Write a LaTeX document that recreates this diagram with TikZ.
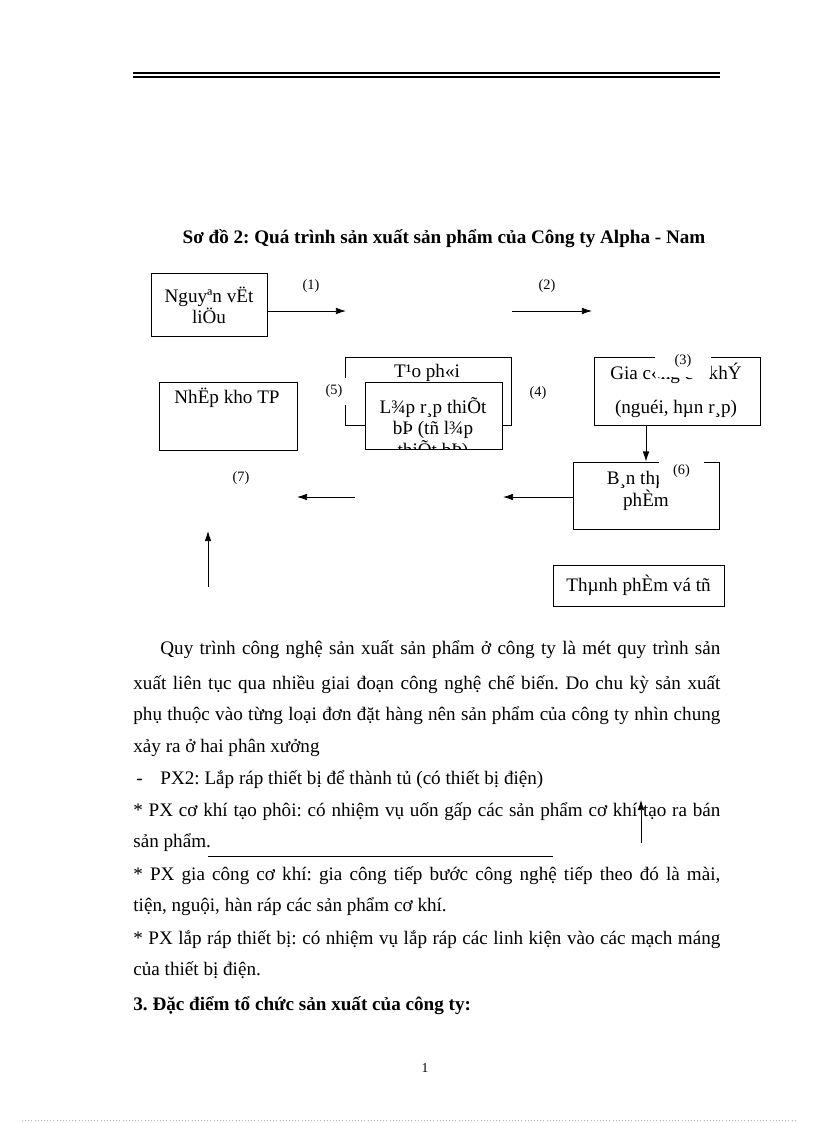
\documentclass[tikz,border=0pt]{standalone}
\usepackage{fontspec}
\setmainfont{Liberation Serif}
\usepackage{tikz}
\usetikzlibrary{arrows.meta,positioning,calc}

\newcommand{\pxu}{0.25735mm}
\newlength{\fullline}\setlength{\fullline}{151.06mm}
\newlength{\indentline}\setlength{\indentline}{144.12mm}
\newcommand{\bodyfont}{\fontsize{14}{16}\selectfont}
\frenchspacing

\tikzset{
    procbox/.style n args={2}{draw, fill=white, inner sep=0pt,
        minimum width=#1*\pxu, minimum height=#2*\pxu},
    boxtext/.style={align=center, inner sep=0pt, font=\bodyfont},
    steplabel/.style={inner sep=0pt, font=\fontsize{10.5}{12}\selectfont},
    coverlabel/.style n args={2}{steplabel, fill=white,
        minimum width=#1*\pxu, minimum height=#2*\pxu},
    flow/.style={-{Latex[length=2.6mm,width=1.7mm]}},
    bodyline/.style={anchor=base west, inner sep=0pt, font=\bodyfont}
}

\begin{document}
\begin{tikzpicture}[x=\pxu, y=-\pxu, line width=0.6pt]
    \useasboundingbox (0,0) rectangle (816,1123);

    % Header rule
    \draw[line width=0.9pt] (133,73) -- (720,73);
    \draw[line width=0.8pt] (133,77) -- (720,77);

    % Title
    \node[anchor=base, inner sep=0pt, font=\bfseries\bodyfont] (title) at (444,243)
        {Sơ đồ 2: Quá trình sản xuất sản phẩm của Công ty Alpha - Nam};

    % Boxes
    \node[procbox={116}{63}, boxtext, font=\fontsize{14}{15.4}\selectfont] (rawmat) at (209,305) {Nguyªn vËt\\liÖu};

    \node[procbox={166}{68}] (forming) at (428.5,391) {};
    \node[boxtext] (formingtext) at (427,373) {T¹o ph«i};

    \node[procbox={137}{67}] (assembly) at (433.5,415.5) {};
    \begin{scope}
        \clip (assembly.south west) rectangle (assembly.north east);
        \node[boxtext, font=\fontsize{14}{15.6}\selectfont] (assemblytext) at (433,429)
            {L¾p r¸p thiÕt\\bÞ (tñ l¾p\\thiÕt bÞ)};
    \end{scope}

    \node[procbox={138}{68}] (store) at (228,416) {};
    \node[boxtext] (storetext) at (227,398) {NhËp kho TP};

    \node[procbox={166}{68}] (machining) at (677,391) {};
    \node[boxtext, font=\fontsize{14}{25}\selectfont] (machiningtext) at (676,390)
        {Gia c«ng c¬ khÝ\\(nguéi, hµn r¸p)};

    \node[procbox={146}{67}] (semi) at (646,495.5) {};
    \node[boxtext, font=\fontsize{14}{13.5}\selectfont] (semitext) at (646,491)
        {B¸n thµnh\\phÈm};

    \node[procbox={171}{41}, boxtext] (finished) at (638.5,585.5) {Thµnh phÈm vá tñ};

    % Step labels
    \node[steplabel] (l1) at (311,286) {(1)};
    \node[steplabel] (l2) at (547,286) {(2)};
    \node[coverlabel={30}{27}] (l5) at (334,391.5) {(5)};
    \node[steplabel] (l4) at (538,393) {(4)};
    \node[coverlabel={56}{32}] (l3) at (683,361) {(3)};
    \node[coverlabel={45}{33}] (l6) at (681.5,471.5) {(6)};
    \node[steplabel] (l7) at (241,478) {(7)};

    % Connectors
    \coordinate (a1end) at (346,311);
    \coordinate (a2start) at (512,311);
    \coordinate (a2end) at (592,311);
    \coordinate (a6end) at (503,497);
    \coordinate (a7start) at (355,497);
    \coordinate (a7end) at (297,497);
    \coordinate (upstart) at (208,587);
    \coordinate (upend) at (208,531);
    \draw[flow] (rawmat.east |- a1end) -- (a1end);
    \draw[flow] (a2start) -- (a2end);
    \draw[flow] (semi.north |- machining.south) -- (semi.north);
    \draw[flow] (semi.west |- a6end) -- (a6end);
    \draw[flow] (a7start) -- (a7end);
    \draw[flow] (upstart) -- (upend);

    % Body text
    \node[bodyline] (p1) at (160,654) {\makebox[\indentline][s]{Quy trình công nghệ sản xuất sản phẩm ở công ty là mét quy trình sản}};
    \node[bodyline] (p2) at (133,689) {\makebox[\fullline][s]{xuất liên tục qua nhiều giai đoạn công nghệ chế biến. Do chu kỳ sản xuất}};
    \node[bodyline] (p3) at (133,720) {\makebox[\fullline][s]{phụ thuộc vào từng loại đơn đặt hàng nên sản phẩm của công ty nhìn chung}};
    \node[bodyline] (p4) at (133,752) {xảy ra ở hai phân xưởng};
    \node[bodyline] (dash) at (136,784) {-};
    \node[bodyline] (p5) at (160,784) {PX2: Lắp ráp thiết bị để thành tủ (có thiết bị điện)};
    \node[bodyline] (p6) at (133,816) {\makebox[\fullline][s]{* PX cơ khí tạo phôi: có nhiệm vụ uốn gấp các sản phẩm cơ khí tạo ra bán}};
    \node[bodyline] (p7) at (133,847) {sản phẩm.};
    \node[bodyline] (p8) at (133,880) {\makebox[\fullline][s]{* PX gia công cơ khí: gia công tiếp bước công nghệ tiếp theo đó là mài,}};
    \node[bodyline] (p9) at (133,911) {tiện, nguội, hàn ráp các sản phẩm cơ khí.};
    \node[bodyline] (p10) at (133,944) {\makebox[\fullline][s]{* PX lắp ráp thiết bị: có nhiệm vụ lắp ráp các linh kiện vào các mạch máng}};
    \node[bodyline] (p11) at (133,975) {của thiết bị điện.};
    \node[bodyline, font=\bfseries\bodyfont] (p12) at (133,1010) {3. Đặc điểm tổ chức sản xuất của công ty:};

    % Stray strokes inside the text
    \coordinate (straystart) at (641,843);
    \coordinate (strayend) at (641,800);
    \draw[flow] (straystart) -- (strayend);
    \coordinate (rulestart) at (208,856);
    \coordinate (ruleend) at (553,856);
    \draw (rulestart) -- (ruleend);

    % Footer
    \node[inner sep=0pt, font=\fontsize{10}{12}\selectfont] (pagenum) at (425,1068) {1};
    \draw[gray!60, dotted, line width=0.3pt] (22,1120) -- (795,1120);
\end{tikzpicture}
\end{document}
